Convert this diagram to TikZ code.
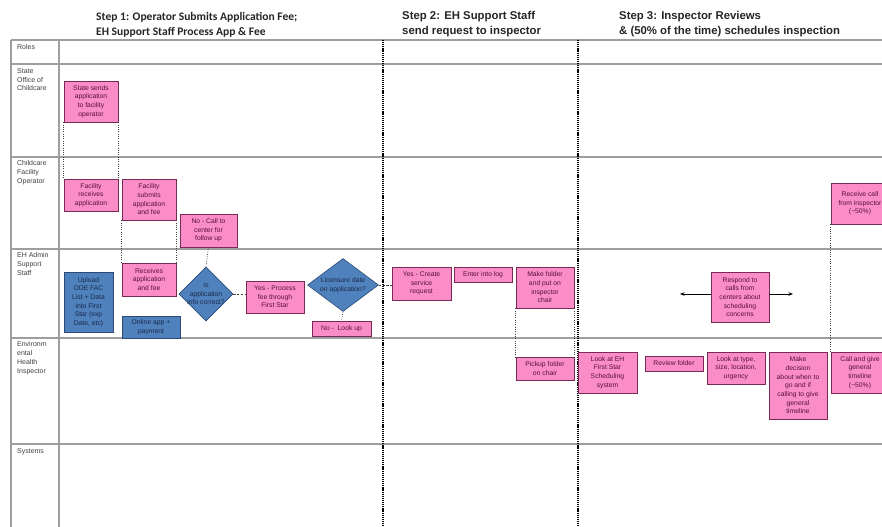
\documentclass[tikz,border=0pt]{standalone}
\usepackage{fontspec}
\setmainfont{Liberation Sans}
\newfontfamily\calibri{Carlito}
\usetikzlibrary{shapes.geometric,arrows.meta}
\definecolor{pinkfill}{HTML}{FA8DC8}
\definecolor{pinkdraw}{HTML}{7A2A55}
\definecolor{pinktext}{HTML}{5A0F3C}
\definecolor{bluefill}{HTML}{4F81BD}
\definecolor{bluedraw}{HTML}{2C4A75}
\definecolor{bluetext}{HTML}{1A2A48}
\definecolor{gridgray}{HTML}{9E9E9E}
\definecolor{roletext}{HTML}{404040}
\newcommand\mybox[7]{\node[#1, minimum width={(#5-#3)*1bp}, minimum height={(#6-#4)*1bp}] (#2) at ({(#3+#5)/2},{(#4+#6)/2}) {#7};}
\begin{document}
\begin{tikzpicture}[x=1bp,y=-1bp,
  boxbase/.style={inner sep=0pt, align=center, line width=0.6bp, font=\fontsize{6.8}{8.7}\selectfont},
  pbox/.style={boxbase, draw=pinkdraw, fill=pinkfill, text=pinktext},
  bbox/.style={boxbase, draw=bluedraw, fill=bluefill, text=bluetext},
  dbox/.style={diamond, draw=bluedraw, fill=bluefill, inner sep=0pt, line width=0.6bp},
  dtext/.style={inner sep=0pt, align=center, text=bluetext, font=\fontsize{6.8}{8.7}\selectfont},
  gridline/.style={draw=gridgray, line width=1.3bp},
  stepline/.style={draw=black, line width=1.3bp, dash pattern=on 1.2bp off 0.9bp},
  dotlink/.style={draw=black!75, line width=0.7bp, dash pattern=on 0.8bp off 1.5bp},
  dashlink/.style={draw=black!75, line width=0.7bp, dash pattern=on 2.2bp off 1.6bp},
  arrowlink/.style={draw=black, line width=0.7bp, -{Stealth[length=4.5bp,width=3.5bp]}},
  roletxt/.style={anchor=north west, inner sep=0pt, align=left, text=roletext, font=\fontsize{7}{9}\selectfont},
  headA/.style={anchor=west, inner sep=0pt, align=left, text=black!85, font=\calibri\bfseries\fontsize{11.6}{15}\selectfont},
  headB/.style={anchor=west, inner sep=0pt, align=left, text=black!85, font=\bfseries\fontsize{11.4}{14.5}\selectfont}
]
\useasboundingbox (0,0) rectangle (882,527);
\fill[white] (0,0) rectangle (882,527);

% table grid
\draw[gridline] (11,40) -- (890,40);
\foreach \yy in {64,157,249,338,444} {\draw[gridline] (11,\yy) -- (890,\yy);}
\draw[gridline] (11,40) -- (11,530);
\draw[gridline] (59,40) -- (59,530);
\draw[stepline] (383,40) -- (383,530);
\draw[stepline] (578,40) -- (578,530);

% headings
\node[headA] (h1) at (96,24.5) {Step 1: Operator Submits Application Fee;\\EH Support Staff Process App \& Fee};
\node[headB] (h2) at (402,24) {Step 2: EH Support Staff\\send request to inspector};
\node[headB] (h3) at (619,24) {Step 3: Inspector Reviews\\\& (50\% of the time) schedules inspection};

% role labels
\node[roletxt] (r1) at (17,44) {Roles};
\node[roletxt] (r2) at (17,68) {State\\Office of\\Childcare};
\node[roletxt] (r3) at (17,160) {Childcare\\Facility\\Operator};
\node[roletxt] (r4) at (17,252) {EH Admin\\Support\\Staff};
\node[roletxt] (r5) at (17,341) {Environm\\ental\\Health\\Inspector};
\node[roletxt] (r6) at (17,448) {Systems};

% step 1 boxes
\mybox{pbox}{sends}{64}{81}{118}{122}{State sends\\application\\to facility\\operator}
\mybox{pbox}{frecv}{64}{179}{118}{211}{Facility\\receives\\application}
\mybox{pbox}{fsub}{122}{179}{176}{220}{Facility\\submits\\application\\and fee}
\mybox{pbox}{nocall}{180}{214}{237}{247}{No - Call to\\center for\\follow up}
\mybox{pbox}{recv}{122}{263}{176}{296}{Receives\\application\\and fee}
\mybox{bbox}{upload}{64}{272}{113}{332}{Upload\\ODE FAC\\List + Data\\into First\\Star (exp\\Date, etc)}
\mybox{bbox}{online}{122}{316}{180}{338}{Online app +\\payment}
\node[dbox, minimum width=54bp, minimum height=54bp] (dia1) at (206,294) {};
\node[dtext] (dia1t) at (dia1.center) {Is\\application\\info correct?};
\mybox{pbox}{yesproc}{246}{281}{304}{313}{Yes - Process\\fee through\\First Star}
\node[dbox, minimum width=71bp, minimum height=53bp] (dia2) at (343,285) {};
\node[dtext] (dia2t) at (dia2.center) {Licensure date\\on application?};
\mybox{pbox}{nolook}{312}{321}{371}{336}{No -\ \ Look up}

% step 2 boxes
\mybox{pbox}{create}{392}{267}{451}{300}{Yes - Create\\service\\request}
\mybox{pbox}{log}{454}{267}{512}{282}{Enter into log}
\mybox{pbox}{folder}{516}{267}{574}{308}{Make folder\\and put on\\inspector\\chair}
\mybox{pbox}{pickup}{516}{357}{574}{380}{Pickup folder\\on chair}

% step 3 boxes
\mybox{pbox}{respond}{711}{272}{769}{322}{Respond to\\calls from\\centers about\\scheduling\\concerns}
\mybox{pbox}{lookeh}{578}{352}{637}{393}{Look at EH\\First Star\\Scheduling\\system}
\mybox{pbox}{review}{645}{356}{703}{371}{Review folder}
\mybox{pbox}{looktype}{707}{352}{765}{384}{Look at type,\\size, location,\\urgency}
\mybox{pbox}{decide}{769}{352}{827}{419}{Make\\decision\\about when to\\go and if\\calling to give\\general\\timeline}
\mybox{pbox}{recvcall}{831}{183}{889}{224}{Receive call\\from inspector\\(\textasciitilde50\%)}
\mybox{pbox}{callgive}{831}{352}{889}{393}{Call and give\\general\\timeline\\(\textasciitilde50\%)}

% connectors
\draw[dotlink] (sends.south west) -- (frecv.north west);
\draw[dotlink] (sends.south east) -- (frecv.north east);
\draw[dotlink] (fsub.south west) -- (recv.north west);
\draw[dotlink] (fsub.south east) -- (recv.north east);
\draw[dotlink] (nocall.south) -- (dia1.north);
\draw[dashlink] (dia1.east) -- (yesproc.west |- dia1.east);
\draw[dotlink] (dia2.south) -- (nolook.north);
\draw[dashlink] (dia2.east) -- (create.west |- dia2.east);
\draw[dotlink] (folder.south west) -- (pickup.north west);
\draw[dotlink] (folder.south east) -- (pickup.north east);
\draw[dotlink] (recvcall.south west) -- (callgive.north west);
\coordinate (aL) at (680,294);
\coordinate (aR) at (793,294);
\draw[arrowlink] (respond.west |- aL) -- (aL);
\draw[arrowlink] (respond.east |- aR) -- (aR);
\end{tikzpicture}
\end{document}
